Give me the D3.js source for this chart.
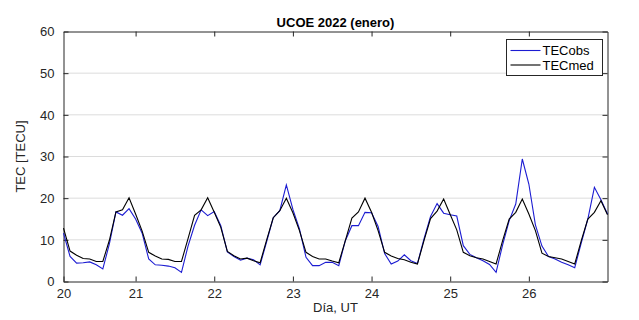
<!DOCTYPE html>
<html>
<head>
  <title>UCOE 2022 (enero)</title>
  <script src="https://cdn.jsdelivr.net/npm/d3@7"></script>
  <style>
    body { margin: 0; background: #fff; }
    text { font-family: "Liberation Sans", Arial, sans-serif; }
  </style>
</head>
<body>
  <svg width="639" height="320" id="mainsvg"></svg>
  <script>
      // data: 2-hour samples, first one at day 20 02:00 UT
      const startDay = 20;
      const stepHours = 2;
      const tecObs = [
        11.6, 6.0, 4.4, 4.5, 4.7, 4.0, 3.0, 9.0, 16.7, 15.9, 17.5, 15.0,
        11.6, 5.4, 4.0, 3.9, 3.7, 3.3, 2.2, 8.5, 13.5, 17.2, 15.8, 16.8,
        13.4, 7.1, 6.0, 5.1, 5.6, 5.2, 4.0, 9.6, 15.3, 17.0, 23.2, 17.3,
        12.6, 5.8, 3.8, 3.8, 4.6, 4.6, 3.8, 9.8, 13.4, 13.4, 16.6, 16.5,
        13.2, 6.7, 4.2, 4.9, 6.4, 5.0, 4.3, 10.2, 15.6, 18.7, 16.4, 16.0,
        15.7, 8.6, 6.5, 5.7, 5.0, 4.1, 2.2, 8.8, 14.6, 18.6, 29.4, 23.4,
        13.6, 8.5, 6.0, 5.4, 4.6, 4.0, 3.3, 9.3, 15.0, 22.6, 19.6, 16.2
      ];
      const tecMed = [
        12.8, 7.3, 6.3, 5.5, 5.4, 4.8, 4.8, 9.9, 16.7, 17.2, 20.1, 16.2,
        12.1, 7.0, 6.1, 5.4, 5.3, 4.8, 4.8, 10.3, 15.9, 17.2, 20.1, 16.6,
        13.0, 7.2, 6.2, 5.4, 5.6, 5.0, 4.5, 10.0, 15.3, 17.0, 20.0, 16.5,
        12.2, 7.0, 6.0, 5.4, 5.4, 4.9, 4.5, 9.8, 15.2, 16.7, 20.0, 16.6,
        12.2, 7.0, 6.1, 5.5, 5.2, 4.6, 4.2, 9.8, 15.1, 16.9, 19.8, 16.1,
        12.4, 7.0, 6.2, 5.7, 5.4, 4.8, 4.2, 9.8, 15.0, 16.6, 19.8, 16.2,
        12.2, 6.8, 6.0, 5.7, 5.4, 4.8, 4.2, 9.8, 15.0, 16.6, 19.4, 16.0
      ];
      const dayTicks = [21, 22, 23, 24, 25, 26];
      const yTicks = [0, 10, 20, 30, 40, 50, 60];

      const dayOf = i => startDay + (i + 1) * stepHours / 24;

      const svg = d3.select('svg');
      const margin = {top: 31.5, left: 63.5, right: 31.5, bottom: 38.5};
      const innerWidth = 639 - margin.left - margin.right;
      const innerHeight = 320 - margin.top - margin.bottom;
      const mainGroup = svg.append('g')
        .attr('transform', `translate(${margin.left}, ${margin.top})`);

      const xScale = d3.scaleLinear()
        .domain([dayOf(0), dayOf(tecObs.length - 1)]).range([0, innerWidth]);
      const yScale = d3.scaleLinear().domain([0, 60]).range([innerHeight, 0]);

      const axisColor = '#262626';
      const tickLen = 5;

      // grid
      mainGroup.append('g').selectAll('line').data(yTicks.slice(1, -1)).join('line')
        .attr('x1', 0).attr('x2', innerWidth)
        .attr('y1', d => yScale(d)).attr('y2', d => yScale(d))
        .attr('stroke', '#dcdcdc').attr('stroke-width', 1);

      // axes (ticks pointing inward)
      const xTickVals = [dayOf(0)].concat(dayTicks);
      const xAxis = d3.axisBottom(xScale).tickValues(xTickVals)
        .tickFormat(d => Math.floor(d + 1e-9)).tickSizeInner(-tickLen).tickSizeOuter(0).tickPadding(7);
      const xAxisTop = d3.axisTop(xScale).tickValues(dayTicks)
        .tickSizeInner(-tickLen).tickSizeOuter(0);
      const yAxis = d3.axisLeft(yScale).tickValues(yTicks)
        .tickSizeInner(-tickLen).tickSizeOuter(0).tickPadding(9);
      const yAxisRight = d3.axisRight(yScale).tickValues(yTicks)
        .tickSizeInner(-tickLen).tickSizeOuter(0);

      mainGroup.append('g').attr('transform', `translate(0, ${innerHeight})`).call(xAxis);
      mainGroup.append('g').call(xAxisTop).selectAll('.tick text').remove();
      mainGroup.append('g').call(yAxis);
      mainGroup.append('g').attr('transform', `translate(${innerWidth}, 0)`).call(yAxisRight)
        .selectAll('.tick text').remove();

      mainGroup.selectAll('.domain, .tick line').attr('stroke', axisColor);
      mainGroup.selectAll('.tick text').attr('fill', axisColor).attr('font-size', '13px')
        .attr('font-family', '"Liberation Sans", Arial, sans-serif');

      // lines
      const line = d3.line().x((d, i) => xScale(dayOf(i))).y(d => yScale(d));
      const plot = mainGroup.append('g');
      plot.append('path').datum(tecObs).attr('d', line)
        .attr('fill', 'none').attr('stroke', '#1c1cd2').attr('stroke-width', 1.1);
      plot.append('path').datum(tecMed).attr('d', line)
        .attr('fill', 'none').attr('stroke', '#000').attr('stroke-width', 1.1);

      // title & axis titles
      svg.append('text').text('UCOE 2022 (enero)')
        .attr('x', margin.left + innerWidth / 2).attr('y', 27)
        .attr('text-anchor', 'middle').attr('font-weight', 'bold').attr('font-size', '13px').attr('fill', '#000');
      svg.append('text').text('Día, UT')
        .attr('x', margin.left + innerWidth / 2).attr('y', 312)
        .attr('text-anchor', 'middle').attr('font-size', '13px').attr('fill', axisColor);
      svg.append('text').text('TEC [TECU]')
        .attr('transform', `translate(25, ${margin.top + innerHeight / 2}) rotate(-90)`)
        .attr('text-anchor', 'middle').attr('font-size', '13px').attr('fill', axisColor);

      // legend
      const legend = svg.append('g').attr('transform', 'translate(506.5, 39.5)');
      legend.append('rect').attr('width', 96).attr('height', 36)
        .attr('fill', '#fff').attr('stroke', axisColor).attr('stroke-width', 1);
      const legendItems = [
        {name: 'TECobs', color: '#1c1cd2'},
        {name: 'TECmed', color: '#000'}
      ];
      const li = legend.selectAll('g').data(legendItems).join('g')
        .attr('transform', (d, i) => `translate(0, ${11 + i * 14.5})`);
      li.append('line').attr('x1', 4).attr('x2', 34).attr('y1', 0).attr('y2', 0)
        .attr('stroke', d => d.color).attr('stroke-width', 1.1);
      li.append('text').text(d => d.name).attr('x', 36).attr('y', 4.5)
        .attr('font-size', '13px').attr('fill', '#000');
  </script>
</body>
</html>
